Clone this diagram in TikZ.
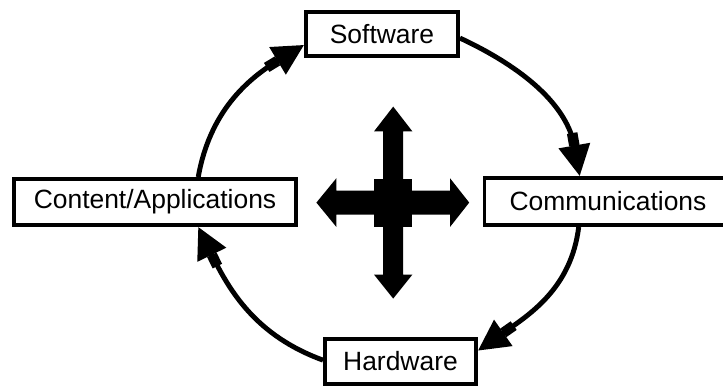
\documentclass[tikz,border=0pt]{standalone}
\usepackage{fontspec}
\setmainfont{Liberation Sans}
\usetikzlibrary{arrows.meta}

\begin{document}
\begin{tikzpicture}[line width=3.5pt,
    flow/.style={-{Rectangle[length=9pt,width=7.5pt,sep=0pt]Triangle[length=22pt,width=22pt,sep=0pt]}},
    block node/.style={rectangle,draw,line width=2.8pt,inner sep=0pt,
                       font={\fontsize{18.8pt}{22pt}\selectfont}}]
  \useasboundingbox (0,0) rectangle (18.075,9.675);

  \node[block node,minimum width=3.8cm,minimum height=1.1cm] (soft) at (9.55,8.825) {Software};
  \node[block node,minimum width=7.05cm,minimum height=1.15cm] (content) at (3.875,4.625) {Content/Applications};
  \node[block node,minimum width=6.175cm,minimum height=1.175cm] (comm) at (15.2,4.6375) {Communications};
  \node[block node,minimum width=3.775cm,minimum height=1.125cm] (hard) at (10.0125,0.6375) {Hardware};

  \path[flow]
    (content.30) edge [out=80,in=211] (soft.188)
    (soft.-3)    edge [out=-25,in=100] (comm.138)
    (comm.221)   edge [out=-97,in=35] (hard.8)
    (hard.179)   edge [out=160,in=-64] (content.-30);

  % cross in the middle
  \begin{scope}[shift={(9.83,4.61)}]
    \fill (0,2.4) -- (0.48,1.78) -- (0.25,1.78) -- (0.25,-1.8) -- (0.48,-1.8) -- (0,-2.4)
      -- (-0.48,-1.8) -- (-0.25,-1.8) -- (-0.25,1.78) -- (-0.48,1.78) -- cycle;
    \fill (-1.92,0) -- (-1.42,0.61) -- (-1.42,0.3) -- (1.42,0.3) -- (1.42,0.61) -- (1.9,0)
      -- (1.42,-0.61) -- (1.42,-0.3) -- (-1.42,-0.3) -- (-1.42,-0.61) -- cycle;
    \fill (-0.48,-0.6) rectangle (0.48,0.6);
  \end{scope}
\end{tikzpicture}
\end{document}
